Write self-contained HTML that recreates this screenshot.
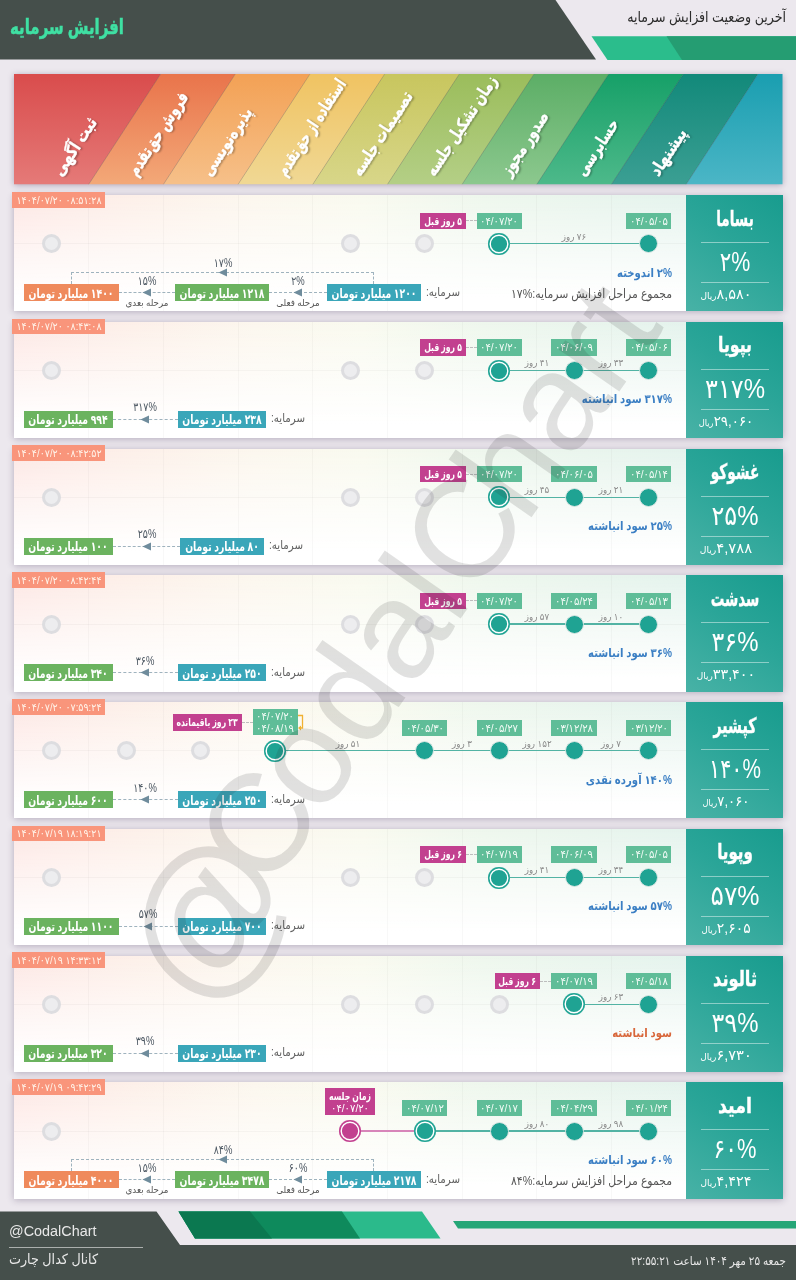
<!DOCTYPE html>
<html lang="fa">
<head>
<meta charset="utf-8">
<title>افزایش سرمایه</title>
<style>
html,body{margin:0;padding:0}
body{width:796px;height:1280px;position:relative;overflow:hidden;background:#ece8ee;font-family:'Liberation Sans','DejaVu Sans',sans-serif}
.b{position:absolute;display:block}
.t{position:absolute;white-space:nowrap;direction:rtl;line-height:1;display:block}
.c{position:absolute;border-radius:50%}
.card{background:linear-gradient(to bottom,rgba(255,255,255,0) 0%,rgba(255,255,255,0.55) 45%,#fff 88%),linear-gradient(to right,#fde7e4 0%,#fdf0e9 18%,#fcf7ee 36%,#f9faef 52%,#eef7ed 70%,#e4f3ed 100%)}
.rowsh{box-shadow:0 1px 7px rgba(60,40,80,0.32)}
.ncard{background:linear-gradient(35deg,#48b2a6 0%,#2aa598 55%,#189c8e 100%)}
.bandsh{filter:drop-shadow(0 1px 3px rgba(60,40,80,0.35))}
.bl{color:#fff;text-shadow:1px 2px 2px rgba(0,0,0,0.28);-webkit-text-stroke:0.4px #fff}
.pr{position:absolute;direction:rtl;white-space:nowrap;color:#fff;line-height:1;width:68px;text-align:center;transform-origin:50% 50%}
.wm{left:393px;top:633px;font-size:139.6px;color:#282828;opacity:0.135;direction:ltr;transform:translate(-50%,-50%) rotate(-55.06deg);font-weight:400}
.wm i{display:inline-block;font-style:normal;text-align:center;white-space:nowrap}
</style>
</head>
<body>
<div class="b" style="left:0;top:0;width:796px;height:1280px;background:#ece8ee"></div>
<svg class="b" style="left:0;top:0" width="796" height="70" viewBox="0 0 796 70"><polygon points="0,0 555.5,0 596,59.5 0,59.5" fill="#454f4b"/><polygon points="591.5,36.2 796,36.2 796,60 607.5,60" fill="#2bbd8c"/><polygon points="666.5,36.2 796,36.2 796,60 682,60" fill="#259d72"/></svg>
<span class="t" style="left:124.00px;top:26.00px;font-size:21px;font-weight:700;color:#3fe0a3;transform:translate(-100%,-50%) scaleX(0.713);transform-origin:100% 50%;-webkit-text-stroke:0.5px #3fe0a3">افزایش سرمایه</span>
<span class="t" style="left:785.50px;top:16.00px;font-size:15px;font-weight:400;color:#2b2b2b;transform:translate(-100%,-50%) scaleX(0.84);transform-origin:100% 50%;">آخرین وضعیت افزایش سرمایه</span>
<svg class="b bandsh" style="left:0;top:0" width="796" height="200" viewBox="0 0 796 200"><defs><linearGradient id="g0" x1="0" y1="0" x2="0" y2="1"><stop offset="0" stop-color="#d94c4c"/><stop offset="1" stop-color="#e57a78"/></linearGradient><linearGradient id="g1" x1="0" y1="0" x2="0" y2="1"><stop offset="0" stop-color="#e9744b"/><stop offset="1" stop-color="#f3a878"/></linearGradient><linearGradient id="g2" x1="0" y1="0" x2="0" y2="1"><stop offset="0" stop-color="#f3a155"/><stop offset="1" stop-color="#f6c089"/></linearGradient><linearGradient id="g3" x1="0" y1="0" x2="0" y2="1"><stop offset="0" stop-color="#f0c362"/><stop offset="1" stop-color="#f0d894"/></linearGradient><linearGradient id="g4" x1="0" y1="0" x2="0" y2="1"><stop offset="0" stop-color="#c8c65e"/><stop offset="1" stop-color="#d8d689"/></linearGradient><linearGradient id="g5" x1="0" y1="0" x2="0" y2="1"><stop offset="0" stop-color="#9bbd5b"/><stop offset="1" stop-color="#b4cf86"/></linearGradient><linearGradient id="g6" x1="0" y1="0" x2="0" y2="1"><stop offset="0" stop-color="#5cae66"/><stop offset="1" stop-color="#8cc88e"/></linearGradient><linearGradient id="g7" x1="0" y1="0" x2="0" y2="1"><stop offset="0" stop-color="#16a068"/><stop offset="1" stop-color="#4db98a"/></linearGradient><linearGradient id="g8" x1="0" y1="0" x2="0" y2="1"><stop offset="0" stop-color="#12897a"/><stop offset="1" stop-color="#3b9f93"/></linearGradient><linearGradient id="g9" x1="0" y1="0" x2="0" y2="1"><stop offset="0" stop-color="#1a9eb0"/><stop offset="1" stop-color="#4bb6c6"/></linearGradient><clipPath id="bc"><rect x="14.0" y="74.0" width="768.5" height="110.5"/></clipPath></defs><g clip-path="url(#bc)"><polygon points="14.0,74.0 160.67000000000002,74.0 88.67,184.5 14.0,184.5" fill="url(#g0)"/><polygon points="160.67000000000002,74.0 235.34,74.0 163.34,184.5 88.67,184.5" fill="url(#g1)"/><polygon points="235.34,74.0 310.01,74.0 238.01,184.5 163.34,184.5" fill="url(#g2)"/><polygon points="310.01,74.0 384.68,74.0 312.68,184.5 238.01,184.5" fill="url(#g3)"/><polygon points="384.68,74.0 459.35,74.0 387.35,184.5 312.68,184.5" fill="url(#g4)"/><polygon points="459.35,74.0 534.02,74.0 462.02,184.5 387.35,184.5" fill="url(#g5)"/><polygon points="534.02,74.0 608.69,74.0 536.69,184.5 462.02,184.5" fill="url(#g6)"/><polygon points="608.69,74.0 683.36,74.0 611.36,184.5 536.69,184.5" fill="url(#g7)"/><polygon points="683.36,74.0 758.03,74.0 686.03,184.5 611.36,184.5" fill="url(#g8)"/><polygon points="758.03,74.0 787.5,74.0 787.5,184.5 686.03,184.5" fill="url(#g9)"/><line x1="160.67000000000002" y1="74.0" x2="88.67" y2="184.5" stroke="rgba(0,0,0,0.22)" stroke-width="0.7"/><line x1="235.34" y1="74.0" x2="163.34" y2="184.5" stroke="rgba(0,0,0,0.22)" stroke-width="0.7"/><line x1="310.01" y1="74.0" x2="238.01" y2="184.5" stroke="rgba(0,0,0,0.22)" stroke-width="0.7"/><line x1="384.68" y1="74.0" x2="312.68" y2="184.5" stroke="rgba(0,0,0,0.22)" stroke-width="0.7"/><line x1="459.35" y1="74.0" x2="387.35" y2="184.5" stroke="rgba(0,0,0,0.22)" stroke-width="0.7"/><line x1="534.02" y1="74.0" x2="462.02" y2="184.5" stroke="rgba(0,0,0,0.22)" stroke-width="0.7"/><line x1="608.69" y1="74.0" x2="536.69" y2="184.5" stroke="rgba(0,0,0,0.22)" stroke-width="0.7"/><line x1="683.36" y1="74.0" x2="611.36" y2="184.5" stroke="rgba(0,0,0,0.22)" stroke-width="0.7"/><line x1="758.03" y1="74.0" x2="686.03" y2="184.5" stroke="rgba(0,0,0,0.22)" stroke-width="0.7"/></g></svg>
<span class="t bl" style="left:64.00px;top:179.00px;font-size:17px;font-weight:700;transform:translate(0,-100%) rotate(-56.91deg) scaleX(0.823);transform-origin:0 100%">ثبت آگهی</span>
<span class="t bl" style="left:138.67px;top:179.00px;font-size:17px;font-weight:700;transform:translate(0,-100%) rotate(-56.91deg) scaleX(0.745);transform-origin:0 100%">فروش حق‌تقدم</span>
<span class="t bl" style="left:213.34px;top:179.00px;font-size:17px;font-weight:700;transform:translate(0,-100%) rotate(-56.91deg) scaleX(0.771);transform-origin:0 100%">پذیره‌نویسی</span>
<span class="t bl" style="left:288.01px;top:179.00px;font-size:17px;font-weight:700;transform:translate(0,-100%) rotate(-56.91deg) scaleX(0.698);transform-origin:0 100%">استفاده از حق‌تقدم</span>
<span class="t bl" style="left:362.68px;top:179.00px;font-size:17px;font-weight:700;transform:translate(0,-100%) rotate(-56.91deg) scaleX(0.759);transform-origin:0 100%">تصمیمات جلسه</span>
<span class="t bl" style="left:437.35px;top:179.00px;font-size:17px;font-weight:700;transform:translate(0,-100%) rotate(-56.91deg) scaleX(0.757);transform-origin:0 100%">زمان تشکیل جلسه</span>
<span class="t bl" style="left:512.02px;top:179.00px;font-size:17px;font-weight:700;transform:translate(0,-100%) rotate(-56.91deg) scaleX(0.772);transform-origin:0 100%">صدور مجوز</span>
<span class="t bl" style="left:586.69px;top:179.00px;font-size:17px;font-weight:700;transform:translate(0,-100%) rotate(-56.91deg) scaleX(0.737);transform-origin:0 100%">حسابرسی</span>
<span class="t bl" style="left:661.36px;top:179.00px;font-size:17px;font-weight:700;transform:translate(0,-100%) rotate(-56.91deg) scaleX(0.829);transform-origin:0 100%">پیشنهاد</span>
<div class="b rowsh" style="left:14.0px;top:195.00px;width:768.50px;height:116.25px"></div>
<div class="b card" style="left:14.0px;top:195.00px;width:672.25px;height:116.25px"></div>
<div class="b " style="left:88.17px;top:195.00px;width:1.00px;height:116.25px;background:rgba(120,120,120,0.055);"></div>
<div class="b " style="left:162.84px;top:195.00px;width:1.00px;height:116.25px;background:rgba(120,120,120,0.055);"></div>
<div class="b " style="left:237.51px;top:195.00px;width:1.00px;height:116.25px;background:rgba(120,120,120,0.055);"></div>
<div class="b " style="left:312.18px;top:195.00px;width:1.00px;height:116.25px;background:rgba(120,120,120,0.055);"></div>
<div class="b " style="left:386.85px;top:195.00px;width:1.00px;height:116.25px;background:rgba(120,120,120,0.055);"></div>
<div class="b " style="left:461.52px;top:195.00px;width:1.00px;height:116.25px;background:rgba(120,120,120,0.055);"></div>
<div class="b " style="left:536.19px;top:195.00px;width:1.00px;height:116.25px;background:rgba(120,120,120,0.055);"></div>
<div class="b " style="left:610.86px;top:195.00px;width:1.00px;height:116.25px;background:rgba(120,120,120,0.055);"></div>
<div class="b " style="left:14.00px;top:243.30px;width:672.25px;height:1.00px;background:rgba(120,120,120,0.06);"></div>
<div class="b ncard" style="left:686.25px;top:195.00px;width:96.25px;height:116.25px"></div>
<span class="t" style="left:734.50px;top:219.50px;font-size:21.5px;font-weight:700;color:#fff;transform:translate(-50%,-50%) scaleX(0.631);transform-origin:50% 50%;-webkit-text-stroke:0.4px #fff">بساما</span>
<div class="b " style="left:700.75px;top:242.00px;width:68.50px;height:1.20px;background:rgba(255,255,255,0.45);"></div>
<span class="t" style="left:734.50px;top:262.00px;font-size:27px;font-weight:400;color:#fff;transform:translate(-50%,-50%) scaleX(0.792);transform-origin:50% 50%;">۲%</span>
<div class="b " style="left:700.75px;top:282.00px;width:68.50px;height:1.20px;background:rgba(255,255,255,0.45);"></div>
<div class="pr" style="left:692.3px;top:286.00px;transform:scaleX(0.998)"><span style="font-size:14.5px">۸,۵۸۰</span><span style="font-size:9px">ریال</span></div>
<div class="b " style="left:12.00px;top:191.80px;width:93.30px;height:15.80px;background:#f9957b;"></div>
<span class="t" style="left:58.65px;top:199.70px;font-size:10.5px;font-weight:400;color:#fff4ea;transform:translate(-50%,-50%) scaleX(0.909);transform-origin:50% 50%;direction:ltr">۱۴۰۴/۰۷/۲۰ ۰۸:۵۱:۲۸</span>
<div class="b " style="left:499.35px;top:243.15px;width:149.34px;height:1.30px;background:#52b3a4;"></div>
<div class="c" style="left:415.19px;top:234.30px;width:19px;height:19px;background:#ededef;border:3.5px solid #dddde0;box-sizing:border-box"></div>
<div class="c" style="left:340.51px;top:234.30px;width:19px;height:19px;background:#ededef;border:3.5px solid #dddde0;box-sizing:border-box"></div>
<div class="c" style="left:41.84px;top:234.30px;width:19px;height:19px;background:#ededef;border:3.5px solid #dddde0;box-sizing:border-box"></div>
<div class="c" style="left:639.20px;top:234.30px;width:19px;height:19px;background:#1fa393;border:1.7px solid #dbe7e4;box-sizing:border-box"></div>
<div class="b " style="left:625.95px;top:212.50px;width:45.50px;height:16.25px;background:#5fbd98;"></div>
<span class="t" style="left:648.70px;top:220.62px;font-size:11px;font-weight:400;color:#f2fbf6;transform:translate(-50%,-50%) scaleX(0.915);transform-origin:50% 50%;">۰۴/۰۵/۰۵</span>
<div class="c" style="left:488.35px;top:232.80px;width:22px;height:22px;background:#1fa393;box-sizing:border-box;box-shadow:inset 0 0 0 1.5px #1fa393, inset 0 0 0 2.9px #fff"></div>
<div class="b " style="left:476.60px;top:212.50px;width:45.50px;height:16.25px;background:#5fbd98;"></div>
<span class="t" style="left:499.35px;top:220.62px;font-size:11px;font-weight:400;color:#f2fbf6;transform:translate(-50%,-50%) scaleX(0.915);transform-origin:50% 50%;">۰۴/۰۷/۲۰</span>
<div class="b dash" style="left:465.60px;top:220.12px;width:11px;height:0;border-top:1px dashed #bdbdbd"></div>
<div class="b " style="left:419.90px;top:212.50px;width:45.70px;height:16.25px;background:#c2408f;"></div>
<span class="t" style="left:442.75px;top:220.62px;font-size:11px;font-weight:700;color:#fff;transform:translate(-50%,-50%) scaleX(0.7);transform-origin:50% 50%;">۵ روز قبل</span>
<span class="t" style="left:574.02px;top:236.50px;font-size:9.5px;font-weight:400;color:#8a8a8a;transform:translate(-50%,-50%) scaleX(0.92);transform-origin:50% 50%;">۷۶ روز</span>
<span class="t" style="left:671.50px;top:272.50px;font-size:12px;font-weight:700;color:#3b7fc4;transform:translate(-100%,-50%) scaleX(0.844);transform-origin:100% 50%;">۲% اندوخته</span>
<span class="t" style="left:671.50px;top:294.00px;font-size:12.5px;font-weight:400;color:#555;transform:translate(-100%,-50%) scaleX(0.866);transform-origin:100% 50%;">مجموع مراحل افزایش سرمایه:%۱۷</span>
<div class="b " style="left:326.75px;top:284.00px;width:94.50px;height:17.00px;background:#3aa6b9;"></div>
<span class="t" style="left:374.00px;top:292.50px;font-size:13px;font-weight:700;color:#fff;transform:translate(-50%,-50%) scaleX(0.714);transform-origin:50% 50%;">۱۲۰۰ میلیارد تومان</span>
<div class="b " style="left:174.75px;top:284.00px;width:94.50px;height:17.00px;background:#6bb35f;"></div>
<span class="t" style="left:222.00px;top:292.50px;font-size:13px;font-weight:700;color:#fff;transform:translate(-50%,-50%) scaleX(0.714);transform-origin:50% 50%;">۱۲۱۸ میلیارد تومان</span>
<div class="b " style="left:24.00px;top:284.00px;width:94.50px;height:17.00px;background:#ef8a5c;"></div>
<span class="t" style="left:71.25px;top:292.50px;font-size:13px;font-weight:700;color:#fff;transform:translate(-50%,-50%) scaleX(0.714);transform-origin:50% 50%;">۱۴۰۰ میلیارد تومان</span>
<span class="t" style="left:426.25px;top:291.70px;font-size:12px;font-weight:400;color:#606060;transform:translate(0,-50%) scaleX(0.853);transform-origin:0 50%;">سرمایه:</span>
<div class="b" style="left:269.25px;top:292.00px;width:57.50px;height:0;border-top:1px dashed #9fb3be"></div>
<svg class="b" style="left:293.00px;top:288.00px" width="10" height="9" viewBox="0 0 10 9"><path d="M0.5 4.5 L9 0.5 V8.5Z" fill="#6f8c9c"/></svg>
<span class="t" style="left:298.00px;top:280.70px;font-size:12px;font-weight:400;color:#4a5560;transform:translate(-50%,-50%) scaleX(0.79);transform-origin:50% 50%;">۲%</span>
<span class="t" style="left:298.00px;top:302.50px;font-size:9.5px;font-weight:400;color:#555;transform:translate(-50%,-50%) scaleX(0.92);transform-origin:50% 50%;">مرحله فعلی</span>
<div class="b" style="left:118.50px;top:292.00px;width:56.25px;height:0;border-top:1px dashed #9fb3be"></div>
<svg class="b" style="left:141.62px;top:288.00px" width="10" height="9" viewBox="0 0 10 9"><path d="M0.5 4.5 L9 0.5 V8.5Z" fill="#6f8c9c"/></svg>
<span class="t" style="left:146.62px;top:280.70px;font-size:12px;font-weight:400;color:#4a5560;transform:translate(-50%,-50%) scaleX(0.79);transform-origin:50% 50%;">۱۵%</span>
<span class="t" style="left:146.62px;top:302.50px;font-size:9.5px;font-weight:400;color:#555;transform:translate(-50%,-50%) scaleX(0.92);transform-origin:50% 50%;">مرحله بعدی</span>
<div class="b" style="left:71.25px;top:272.00px;width:302.75px;height:12px;border:1px dashed #9fb3be;border-bottom:none;box-sizing:border-box"></div>
<svg class="b" style="left:217.62px;top:268.00px" width="10" height="9" viewBox="0 0 10 9"><path d="M0.5 4.5 L9 0.5 V8.5Z" fill="#6f8c9c"/></svg>
<span class="t" style="left:222.62px;top:263.00px;font-size:12px;font-weight:400;color:#4a5560;transform:translate(-50%,-50%) scaleX(0.79);transform-origin:50% 50%;">۱۷%</span>
<div class="b rowsh" style="left:14.0px;top:321.75px;width:768.50px;height:116.25px"></div>
<div class="b card" style="left:14.0px;top:321.75px;width:672.25px;height:116.25px"></div>
<div class="b " style="left:88.17px;top:321.75px;width:1.00px;height:116.25px;background:rgba(120,120,120,0.055);"></div>
<div class="b " style="left:162.84px;top:321.75px;width:1.00px;height:116.25px;background:rgba(120,120,120,0.055);"></div>
<div class="b " style="left:237.51px;top:321.75px;width:1.00px;height:116.25px;background:rgba(120,120,120,0.055);"></div>
<div class="b " style="left:312.18px;top:321.75px;width:1.00px;height:116.25px;background:rgba(120,120,120,0.055);"></div>
<div class="b " style="left:386.85px;top:321.75px;width:1.00px;height:116.25px;background:rgba(120,120,120,0.055);"></div>
<div class="b " style="left:461.52px;top:321.75px;width:1.00px;height:116.25px;background:rgba(120,120,120,0.055);"></div>
<div class="b " style="left:536.19px;top:321.75px;width:1.00px;height:116.25px;background:rgba(120,120,120,0.055);"></div>
<div class="b " style="left:610.86px;top:321.75px;width:1.00px;height:116.25px;background:rgba(120,120,120,0.055);"></div>
<div class="b " style="left:14.00px;top:370.05px;width:672.25px;height:1.00px;background:rgba(120,120,120,0.06);"></div>
<div class="b ncard" style="left:686.25px;top:321.75px;width:96.25px;height:116.25px"></div>
<span class="t" style="left:734.50px;top:346.25px;font-size:21.5px;font-weight:700;color:#fff;transform:translate(-50%,-50%) scaleX(0.731);transform-origin:50% 50%;-webkit-text-stroke:0.4px #fff">بپویا</span>
<div class="b " style="left:700.75px;top:368.75px;width:68.50px;height:1.20px;background:rgba(255,255,255,0.45);"></div>
<span class="t" style="left:734.50px;top:388.75px;font-size:27px;font-weight:400;color:#fff;transform:translate(-50%,-50%) scaleX(0.889);transform-origin:50% 50%;">۳۱۷%</span>
<div class="b " style="left:700.75px;top:408.75px;width:68.50px;height:1.20px;background:rgba(255,255,255,0.45);"></div>
<div class="pr" style="left:692.3px;top:412.75px;transform:scaleX(0.922)"><span style="font-size:14.5px">۲۹,۰۶۰</span><span style="font-size:9px">ریال</span></div>
<div class="b " style="left:12.00px;top:318.55px;width:93.30px;height:15.80px;background:#f9957b;"></div>
<span class="t" style="left:58.65px;top:326.45px;font-size:10.5px;font-weight:400;color:#fff4ea;transform:translate(-50%,-50%) scaleX(0.909);transform-origin:50% 50%;direction:ltr">۱۴۰۴/۰۷/۲۰ ۰۸:۴۳:۰۸</span>
<div class="b " style="left:574.03px;top:369.90px;width:74.67px;height:1.30px;background:#52b3a4;"></div>
<div class="b " style="left:499.35px;top:369.90px;width:74.67px;height:1.30px;background:#52b3a4;"></div>
<div class="c" style="left:415.19px;top:361.05px;width:19px;height:19px;background:#ededef;border:3.5px solid #dddde0;box-sizing:border-box"></div>
<div class="c" style="left:340.51px;top:361.05px;width:19px;height:19px;background:#ededef;border:3.5px solid #dddde0;box-sizing:border-box"></div>
<div class="c" style="left:41.84px;top:361.05px;width:19px;height:19px;background:#ededef;border:3.5px solid #dddde0;box-sizing:border-box"></div>
<div class="c" style="left:639.20px;top:361.05px;width:19px;height:19px;background:#1fa393;border:1.7px solid #dbe7e4;box-sizing:border-box"></div>
<div class="b " style="left:625.95px;top:339.25px;width:45.50px;height:16.25px;background:#5fbd98;"></div>
<span class="t" style="left:648.70px;top:347.38px;font-size:11px;font-weight:400;color:#f2fbf6;transform:translate(-50%,-50%) scaleX(0.915);transform-origin:50% 50%;">۰۴/۰۵/۰۶</span>
<div class="c" style="left:564.53px;top:361.05px;width:19px;height:19px;background:#1fa393;border:1.7px solid #dbe7e4;box-sizing:border-box"></div>
<div class="b " style="left:551.28px;top:339.25px;width:45.50px;height:16.25px;background:#5fbd98;"></div>
<span class="t" style="left:574.03px;top:347.38px;font-size:11px;font-weight:400;color:#f2fbf6;transform:translate(-50%,-50%) scaleX(0.915);transform-origin:50% 50%;">۰۴/۰۶/۰۹</span>
<div class="c" style="left:488.35px;top:359.55px;width:22px;height:22px;background:#1fa393;box-sizing:border-box;box-shadow:inset 0 0 0 1.5px #1fa393, inset 0 0 0 2.9px #fff"></div>
<div class="b " style="left:476.60px;top:339.25px;width:45.50px;height:16.25px;background:#5fbd98;"></div>
<span class="t" style="left:499.35px;top:347.38px;font-size:11px;font-weight:400;color:#f2fbf6;transform:translate(-50%,-50%) scaleX(0.915);transform-origin:50% 50%;">۰۴/۰۷/۲۰</span>
<div class="b dash" style="left:465.60px;top:346.88px;width:11px;height:0;border-top:1px dashed #bdbdbd"></div>
<div class="b " style="left:419.90px;top:339.25px;width:45.70px;height:16.25px;background:#c2408f;"></div>
<span class="t" style="left:442.75px;top:347.38px;font-size:11px;font-weight:700;color:#fff;transform:translate(-50%,-50%) scaleX(0.7);transform-origin:50% 50%;">۵ روز قبل</span>
<span class="t" style="left:611.36px;top:363.25px;font-size:9.5px;font-weight:400;color:#8a8a8a;transform:translate(-50%,-50%) scaleX(0.92);transform-origin:50% 50%;">۳۳ روز</span>
<span class="t" style="left:536.69px;top:363.25px;font-size:9.5px;font-weight:400;color:#8a8a8a;transform:translate(-50%,-50%) scaleX(0.92);transform-origin:50% 50%;">۴۱ روز</span>
<span class="t" style="left:671.50px;top:399.25px;font-size:12px;font-weight:700;color:#3b7fc4;transform:translate(-100%,-50%) scaleX(0.844);transform-origin:100% 50%;">۳۱۷% سود انباشته</span>
<div class="b " style="left:177.58px;top:410.75px;width:88.83px;height:17.00px;background:#3aa6b9;"></div>
<span class="t" style="left:222.00px;top:419.25px;font-size:13px;font-weight:700;color:#fff;transform:translate(-50%,-50%) scaleX(0.714);transform-origin:50% 50%;">۲۳۸ میلیارد تومان</span>
<div class="b " style="left:24.00px;top:410.75px;width:88.83px;height:17.00px;background:#6bb35f;"></div>
<span class="t" style="left:68.42px;top:419.25px;font-size:13px;font-weight:700;color:#fff;transform:translate(-50%,-50%) scaleX(0.714);transform-origin:50% 50%;">۹۹۴ میلیارد تومان</span>
<span class="t" style="left:271.42px;top:418.45px;font-size:12px;font-weight:400;color:#606060;transform:translate(0,-50%) scaleX(0.853);transform-origin:0 50%;">سرمایه:</span>
<div class="b" style="left:112.83px;top:418.75px;width:64.75px;height:0;border-top:1px dashed #9fb3be"></div>
<svg class="b" style="left:140.21px;top:414.75px" width="10" height="9" viewBox="0 0 10 9"><path d="M0.5 4.5 L9 0.5 V8.5Z" fill="#6f8c9c"/></svg>
<span class="t" style="left:145.21px;top:407.45px;font-size:12px;font-weight:400;color:#4a5560;transform:translate(-50%,-50%) scaleX(0.79);transform-origin:50% 50%;">۳۱۷%</span>
<div class="b rowsh" style="left:14.0px;top:448.50px;width:768.50px;height:116.25px"></div>
<div class="b card" style="left:14.0px;top:448.50px;width:672.25px;height:116.25px"></div>
<div class="b " style="left:88.17px;top:448.50px;width:1.00px;height:116.25px;background:rgba(120,120,120,0.055);"></div>
<div class="b " style="left:162.84px;top:448.50px;width:1.00px;height:116.25px;background:rgba(120,120,120,0.055);"></div>
<div class="b " style="left:237.51px;top:448.50px;width:1.00px;height:116.25px;background:rgba(120,120,120,0.055);"></div>
<div class="b " style="left:312.18px;top:448.50px;width:1.00px;height:116.25px;background:rgba(120,120,120,0.055);"></div>
<div class="b " style="left:386.85px;top:448.50px;width:1.00px;height:116.25px;background:rgba(120,120,120,0.055);"></div>
<div class="b " style="left:461.52px;top:448.50px;width:1.00px;height:116.25px;background:rgba(120,120,120,0.055);"></div>
<div class="b " style="left:536.19px;top:448.50px;width:1.00px;height:116.25px;background:rgba(120,120,120,0.055);"></div>
<div class="b " style="left:610.86px;top:448.50px;width:1.00px;height:116.25px;background:rgba(120,120,120,0.055);"></div>
<div class="b " style="left:14.00px;top:496.80px;width:672.25px;height:1.00px;background:rgba(120,120,120,0.06);"></div>
<div class="b ncard" style="left:686.25px;top:448.50px;width:96.25px;height:116.25px"></div>
<span class="t" style="left:734.50px;top:473.00px;font-size:21.5px;font-weight:700;color:#fff;transform:translate(-50%,-50%) scaleX(0.638);transform-origin:50% 50%;-webkit-text-stroke:0.4px #fff">غشوکو</span>
<div class="b " style="left:700.75px;top:495.50px;width:68.50px;height:1.20px;background:rgba(255,255,255,0.45);"></div>
<span class="t" style="left:734.50px;top:515.50px;font-size:27px;font-weight:400;color:#fff;transform:translate(-50%,-50%) scaleX(0.887);transform-origin:50% 50%;">۲۵%</span>
<div class="b " style="left:700.75px;top:535.50px;width:68.50px;height:1.20px;background:rgba(255,255,255,0.45);"></div>
<div class="pr" style="left:692.3px;top:539.50px;transform:scaleX(1.023)"><span style="font-size:14.5px">۴,۷۸۸</span><span style="font-size:9px">ریال</span></div>
<div class="b " style="left:12.00px;top:445.30px;width:93.30px;height:15.80px;background:#f9957b;"></div>
<span class="t" style="left:58.65px;top:453.20px;font-size:10.5px;font-weight:400;color:#fff4ea;transform:translate(-50%,-50%) scaleX(0.909);transform-origin:50% 50%;direction:ltr">۱۴۰۴/۰۷/۲۰ ۰۸:۴۲:۵۲</span>
<div class="b " style="left:574.03px;top:496.65px;width:74.67px;height:1.30px;background:#52b3a4;"></div>
<div class="b " style="left:499.35px;top:496.65px;width:74.67px;height:1.30px;background:#52b3a4;"></div>
<div class="c" style="left:415.19px;top:487.80px;width:19px;height:19px;background:#ededef;border:3.5px solid #dddde0;box-sizing:border-box"></div>
<div class="c" style="left:340.51px;top:487.80px;width:19px;height:19px;background:#ededef;border:3.5px solid #dddde0;box-sizing:border-box"></div>
<div class="c" style="left:41.84px;top:487.80px;width:19px;height:19px;background:#ededef;border:3.5px solid #dddde0;box-sizing:border-box"></div>
<div class="c" style="left:639.20px;top:487.80px;width:19px;height:19px;background:#1fa393;border:1.7px solid #dbe7e4;box-sizing:border-box"></div>
<div class="b " style="left:625.95px;top:466.00px;width:45.50px;height:16.25px;background:#5fbd98;"></div>
<span class="t" style="left:648.70px;top:474.12px;font-size:11px;font-weight:400;color:#f2fbf6;transform:translate(-50%,-50%) scaleX(0.915);transform-origin:50% 50%;">۰۴/۰۵/۱۴</span>
<div class="c" style="left:564.53px;top:487.80px;width:19px;height:19px;background:#1fa393;border:1.7px solid #dbe7e4;box-sizing:border-box"></div>
<div class="b " style="left:551.28px;top:466.00px;width:45.50px;height:16.25px;background:#5fbd98;"></div>
<span class="t" style="left:574.03px;top:474.12px;font-size:11px;font-weight:400;color:#f2fbf6;transform:translate(-50%,-50%) scaleX(0.915);transform-origin:50% 50%;">۰۴/۰۶/۰۵</span>
<div class="c" style="left:488.35px;top:486.30px;width:22px;height:22px;background:#1fa393;box-sizing:border-box;box-shadow:inset 0 0 0 1.5px #1fa393, inset 0 0 0 2.9px #fff"></div>
<div class="b " style="left:476.60px;top:466.00px;width:45.50px;height:16.25px;background:#5fbd98;"></div>
<span class="t" style="left:499.35px;top:474.12px;font-size:11px;font-weight:400;color:#f2fbf6;transform:translate(-50%,-50%) scaleX(0.915);transform-origin:50% 50%;">۰۴/۰۷/۲۰</span>
<div class="b dash" style="left:465.60px;top:473.62px;width:11px;height:0;border-top:1px dashed #bdbdbd"></div>
<div class="b " style="left:419.90px;top:466.00px;width:45.70px;height:16.25px;background:#c2408f;"></div>
<span class="t" style="left:442.75px;top:474.12px;font-size:11px;font-weight:700;color:#fff;transform:translate(-50%,-50%) scaleX(0.7);transform-origin:50% 50%;">۵ روز قبل</span>
<span class="t" style="left:611.36px;top:490.00px;font-size:9.5px;font-weight:400;color:#8a8a8a;transform:translate(-50%,-50%) scaleX(0.92);transform-origin:50% 50%;">۲۱ روز</span>
<span class="t" style="left:536.69px;top:490.00px;font-size:9.5px;font-weight:400;color:#8a8a8a;transform:translate(-50%,-50%) scaleX(0.92);transform-origin:50% 50%;">۴۵ روز</span>
<span class="t" style="left:671.50px;top:526.00px;font-size:12px;font-weight:700;color:#3b7fc4;transform:translate(-100%,-50%) scaleX(0.844);transform-origin:100% 50%;">۲۵% سود انباشته</span>
<div class="b " style="left:180.42px;top:537.50px;width:83.16px;height:17.00px;background:#3aa6b9;"></div>
<span class="t" style="left:222.00px;top:546.00px;font-size:13px;font-weight:700;color:#fff;transform:translate(-50%,-50%) scaleX(0.714);transform-origin:50% 50%;">۸۰ میلیارد تومان</span>
<div class="b " style="left:24.00px;top:537.50px;width:88.83px;height:17.00px;background:#6bb35f;"></div>
<span class="t" style="left:68.42px;top:546.00px;font-size:13px;font-weight:700;color:#fff;transform:translate(-50%,-50%) scaleX(0.714);transform-origin:50% 50%;">۱۰۰ میلیارد تومان</span>
<span class="t" style="left:268.58px;top:545.20px;font-size:12px;font-weight:400;color:#606060;transform:translate(0,-50%) scaleX(0.853);transform-origin:0 50%;">سرمایه:</span>
<div class="b" style="left:112.83px;top:545.50px;width:67.59px;height:0;border-top:1px dashed #9fb3be"></div>
<svg class="b" style="left:141.62px;top:541.50px" width="10" height="9" viewBox="0 0 10 9"><path d="M0.5 4.5 L9 0.5 V8.5Z" fill="#6f8c9c"/></svg>
<span class="t" style="left:146.62px;top:534.20px;font-size:12px;font-weight:400;color:#4a5560;transform:translate(-50%,-50%) scaleX(0.79);transform-origin:50% 50%;">۲۵%</span>
<div class="b rowsh" style="left:14.0px;top:575.25px;width:768.50px;height:116.25px"></div>
<div class="b card" style="left:14.0px;top:575.25px;width:672.25px;height:116.25px"></div>
<div class="b " style="left:88.17px;top:575.25px;width:1.00px;height:116.25px;background:rgba(120,120,120,0.055);"></div>
<div class="b " style="left:162.84px;top:575.25px;width:1.00px;height:116.25px;background:rgba(120,120,120,0.055);"></div>
<div class="b " style="left:237.51px;top:575.25px;width:1.00px;height:116.25px;background:rgba(120,120,120,0.055);"></div>
<div class="b " style="left:312.18px;top:575.25px;width:1.00px;height:116.25px;background:rgba(120,120,120,0.055);"></div>
<div class="b " style="left:386.85px;top:575.25px;width:1.00px;height:116.25px;background:rgba(120,120,120,0.055);"></div>
<div class="b " style="left:461.52px;top:575.25px;width:1.00px;height:116.25px;background:rgba(120,120,120,0.055);"></div>
<div class="b " style="left:536.19px;top:575.25px;width:1.00px;height:116.25px;background:rgba(120,120,120,0.055);"></div>
<div class="b " style="left:610.86px;top:575.25px;width:1.00px;height:116.25px;background:rgba(120,120,120,0.055);"></div>
<div class="b " style="left:14.00px;top:623.55px;width:672.25px;height:1.00px;background:rgba(120,120,120,0.06);"></div>
<div class="b ncard" style="left:686.25px;top:575.25px;width:96.25px;height:116.25px"></div>
<span class="t" style="left:734.50px;top:599.75px;font-size:21.5px;font-weight:700;color:#fff;transform:translate(-50%,-50%) scaleX(0.626);transform-origin:50% 50%;-webkit-text-stroke:0.4px #fff">سدشت</span>
<div class="b " style="left:700.75px;top:622.25px;width:68.50px;height:1.20px;background:rgba(255,255,255,0.45);"></div>
<span class="t" style="left:734.50px;top:642.25px;font-size:27px;font-weight:400;color:#fff;transform:translate(-50%,-50%) scaleX(0.887);transform-origin:50% 50%;">۳۶%</span>
<div class="b " style="left:700.75px;top:662.25px;width:68.50px;height:1.20px;background:rgba(255,255,255,0.45);"></div>
<div class="pr" style="left:692.3px;top:666.25px;transform:scaleX(0.989)"><span style="font-size:14.5px">۳۳,۴۰۰</span><span style="font-size:9px">ریال</span></div>
<div class="b " style="left:12.00px;top:572.05px;width:93.30px;height:15.80px;background:#f9957b;"></div>
<span class="t" style="left:58.65px;top:579.95px;font-size:10.5px;font-weight:400;color:#fff4ea;transform:translate(-50%,-50%) scaleX(0.909);transform-origin:50% 50%;direction:ltr">۱۴۰۴/۰۷/۲۰ ۰۸:۴۲:۴۴</span>
<div class="b " style="left:574.03px;top:623.40px;width:74.67px;height:1.30px;background:#52b3a4;"></div>
<div class="b " style="left:499.35px;top:623.40px;width:74.67px;height:1.30px;background:#52b3a4;"></div>
<div class="c" style="left:415.19px;top:614.55px;width:19px;height:19px;background:#ededef;border:3.5px solid #dddde0;box-sizing:border-box"></div>
<div class="c" style="left:340.51px;top:614.55px;width:19px;height:19px;background:#ededef;border:3.5px solid #dddde0;box-sizing:border-box"></div>
<div class="c" style="left:41.84px;top:614.55px;width:19px;height:19px;background:#ededef;border:3.5px solid #dddde0;box-sizing:border-box"></div>
<div class="c" style="left:639.20px;top:614.55px;width:19px;height:19px;background:#1fa393;border:1.7px solid #dbe7e4;box-sizing:border-box"></div>
<div class="b " style="left:625.95px;top:592.75px;width:45.50px;height:16.25px;background:#5fbd98;"></div>
<span class="t" style="left:648.70px;top:600.88px;font-size:11px;font-weight:400;color:#f2fbf6;transform:translate(-50%,-50%) scaleX(0.915);transform-origin:50% 50%;">۰۴/۰۵/۱۳</span>
<div class="c" style="left:564.53px;top:614.55px;width:19px;height:19px;background:#1fa393;border:1.7px solid #dbe7e4;box-sizing:border-box"></div>
<div class="b " style="left:551.28px;top:592.75px;width:45.50px;height:16.25px;background:#5fbd98;"></div>
<span class="t" style="left:574.03px;top:600.88px;font-size:11px;font-weight:400;color:#f2fbf6;transform:translate(-50%,-50%) scaleX(0.915);transform-origin:50% 50%;">۰۴/۰۵/۲۴</span>
<div class="c" style="left:488.35px;top:613.05px;width:22px;height:22px;background:#1fa393;box-sizing:border-box;box-shadow:inset 0 0 0 1.5px #1fa393, inset 0 0 0 2.9px #fff"></div>
<div class="b " style="left:476.60px;top:592.75px;width:45.50px;height:16.25px;background:#5fbd98;"></div>
<span class="t" style="left:499.35px;top:600.88px;font-size:11px;font-weight:400;color:#f2fbf6;transform:translate(-50%,-50%) scaleX(0.915);transform-origin:50% 50%;">۰۴/۰۷/۲۰</span>
<div class="b dash" style="left:465.60px;top:600.38px;width:11px;height:0;border-top:1px dashed #bdbdbd"></div>
<div class="b " style="left:419.90px;top:592.75px;width:45.70px;height:16.25px;background:#c2408f;"></div>
<span class="t" style="left:442.75px;top:600.88px;font-size:11px;font-weight:700;color:#fff;transform:translate(-50%,-50%) scaleX(0.7);transform-origin:50% 50%;">۵ روز قبل</span>
<span class="t" style="left:611.36px;top:616.75px;font-size:9.5px;font-weight:400;color:#8a8a8a;transform:translate(-50%,-50%) scaleX(0.92);transform-origin:50% 50%;">۱۰ روز</span>
<span class="t" style="left:536.69px;top:616.75px;font-size:9.5px;font-weight:400;color:#8a8a8a;transform:translate(-50%,-50%) scaleX(0.92);transform-origin:50% 50%;">۵۷ روز</span>
<span class="t" style="left:671.50px;top:652.75px;font-size:12px;font-weight:700;color:#3b7fc4;transform:translate(-100%,-50%) scaleX(0.844);transform-origin:100% 50%;">۳۶% سود انباشته</span>
<div class="b " style="left:177.58px;top:664.25px;width:88.83px;height:17.00px;background:#3aa6b9;"></div>
<span class="t" style="left:222.00px;top:672.75px;font-size:13px;font-weight:700;color:#fff;transform:translate(-50%,-50%) scaleX(0.714);transform-origin:50% 50%;">۲۵۰ میلیارد تومان</span>
<div class="b " style="left:24.00px;top:664.25px;width:88.83px;height:17.00px;background:#6bb35f;"></div>
<span class="t" style="left:68.42px;top:672.75px;font-size:13px;font-weight:700;color:#fff;transform:translate(-50%,-50%) scaleX(0.714);transform-origin:50% 50%;">۳۴۰ میلیارد تومان</span>
<span class="t" style="left:271.42px;top:671.95px;font-size:12px;font-weight:400;color:#606060;transform:translate(0,-50%) scaleX(0.853);transform-origin:0 50%;">سرمایه:</span>
<div class="b" style="left:112.83px;top:672.25px;width:64.75px;height:0;border-top:1px dashed #9fb3be"></div>
<svg class="b" style="left:140.21px;top:668.25px" width="10" height="9" viewBox="0 0 10 9"><path d="M0.5 4.5 L9 0.5 V8.5Z" fill="#6f8c9c"/></svg>
<span class="t" style="left:145.21px;top:660.95px;font-size:12px;font-weight:400;color:#4a5560;transform:translate(-50%,-50%) scaleX(0.79);transform-origin:50% 50%;">۳۶%</span>
<div class="b rowsh" style="left:14.0px;top:702.00px;width:768.50px;height:116.25px"></div>
<div class="b card" style="left:14.0px;top:702.00px;width:672.25px;height:116.25px"></div>
<div class="b " style="left:88.17px;top:702.00px;width:1.00px;height:116.25px;background:rgba(120,120,120,0.055);"></div>
<div class="b " style="left:162.84px;top:702.00px;width:1.00px;height:116.25px;background:rgba(120,120,120,0.055);"></div>
<div class="b " style="left:237.51px;top:702.00px;width:1.00px;height:116.25px;background:rgba(120,120,120,0.055);"></div>
<div class="b " style="left:312.18px;top:702.00px;width:1.00px;height:116.25px;background:rgba(120,120,120,0.055);"></div>
<div class="b " style="left:386.85px;top:702.00px;width:1.00px;height:116.25px;background:rgba(120,120,120,0.055);"></div>
<div class="b " style="left:461.52px;top:702.00px;width:1.00px;height:116.25px;background:rgba(120,120,120,0.055);"></div>
<div class="b " style="left:536.19px;top:702.00px;width:1.00px;height:116.25px;background:rgba(120,120,120,0.055);"></div>
<div class="b " style="left:610.86px;top:702.00px;width:1.00px;height:116.25px;background:rgba(120,120,120,0.055);"></div>
<div class="b " style="left:14.00px;top:750.30px;width:672.25px;height:1.00px;background:rgba(120,120,120,0.06);"></div>
<div class="b ncard" style="left:686.25px;top:702.00px;width:96.25px;height:116.25px"></div>
<span class="t" style="left:734.50px;top:726.50px;font-size:21.5px;font-weight:700;color:#fff;transform:translate(-50%,-50%) scaleX(0.658);transform-origin:50% 50%;-webkit-text-stroke:0.4px #fff">کپشیر</span>
<div class="b " style="left:700.75px;top:749.00px;width:68.50px;height:1.20px;background:rgba(255,255,255,0.45);"></div>
<span class="t" style="left:734.50px;top:769.00px;font-size:27px;font-weight:400;color:#fff;transform:translate(-50%,-50%) scaleX(0.77);transform-origin:50% 50%;">۱۴۰%</span>
<div class="b " style="left:700.75px;top:789.00px;width:68.50px;height:1.20px;background:rgba(255,255,255,0.45);"></div>
<div class="pr" style="left:692.3px;top:793.00px;transform:scaleX(0.912)"><span style="font-size:14.5px">۷,۰۶۰</span><span style="font-size:9px">ریال</span></div>
<div class="b " style="left:12.00px;top:698.80px;width:93.30px;height:15.80px;background:#f9957b;"></div>
<span class="t" style="left:58.65px;top:706.70px;font-size:10.5px;font-weight:400;color:#fff4ea;transform:translate(-50%,-50%) scaleX(0.909);transform-origin:50% 50%;direction:ltr">۱۴۰۴/۰۷/۲۰ ۰۷:۵۹:۲۴</span>
<div class="b " style="left:574.03px;top:750.15px;width:74.67px;height:1.30px;background:#52b3a4;"></div>
<div class="b " style="left:499.35px;top:750.15px;width:74.67px;height:1.30px;background:#52b3a4;"></div>
<div class="b " style="left:424.69px;top:750.15px;width:74.67px;height:1.30px;background:#52b3a4;"></div>
<div class="b " style="left:275.34px;top:750.15px;width:149.34px;height:1.30px;background:#52b3a4;"></div>
<div class="c" style="left:191.18px;top:741.30px;width:19px;height:19px;background:#ededef;border:3.5px solid #dddde0;box-sizing:border-box"></div>
<div class="c" style="left:116.50px;top:741.30px;width:19px;height:19px;background:#ededef;border:3.5px solid #dddde0;box-sizing:border-box"></div>
<div class="c" style="left:41.84px;top:741.30px;width:19px;height:19px;background:#ededef;border:3.5px solid #dddde0;box-sizing:border-box"></div>
<div class="c" style="left:639.20px;top:741.30px;width:19px;height:19px;background:#1fa393;border:1.7px solid #dbe7e4;box-sizing:border-box"></div>
<div class="b " style="left:625.95px;top:719.50px;width:45.50px;height:16.25px;background:#5fbd98;"></div>
<span class="t" style="left:648.70px;top:727.62px;font-size:11px;font-weight:400;color:#f2fbf6;transform:translate(-50%,-50%) scaleX(0.915);transform-origin:50% 50%;">۰۳/۱۲/۲۰</span>
<div class="c" style="left:564.53px;top:741.30px;width:19px;height:19px;background:#1fa393;border:1.7px solid #dbe7e4;box-sizing:border-box"></div>
<div class="b " style="left:551.28px;top:719.50px;width:45.50px;height:16.25px;background:#5fbd98;"></div>
<span class="t" style="left:574.03px;top:727.62px;font-size:11px;font-weight:400;color:#f2fbf6;transform:translate(-50%,-50%) scaleX(0.915);transform-origin:50% 50%;">۰۳/۱۲/۲۸</span>
<div class="c" style="left:489.85px;top:741.30px;width:19px;height:19px;background:#1fa393;border:1.7px solid #dbe7e4;box-sizing:border-box"></div>
<div class="b " style="left:476.60px;top:719.50px;width:45.50px;height:16.25px;background:#5fbd98;"></div>
<span class="t" style="left:499.35px;top:727.62px;font-size:11px;font-weight:400;color:#f2fbf6;transform:translate(-50%,-50%) scaleX(0.915);transform-origin:50% 50%;">۰۴/۰۵/۲۷</span>
<div class="c" style="left:415.19px;top:741.30px;width:19px;height:19px;background:#1fa393;border:1.7px solid #dbe7e4;box-sizing:border-box"></div>
<div class="b " style="left:401.94px;top:719.50px;width:45.50px;height:16.25px;background:#5fbd98;"></div>
<span class="t" style="left:424.69px;top:727.62px;font-size:11px;font-weight:400;color:#f2fbf6;transform:translate(-50%,-50%) scaleX(0.915);transform-origin:50% 50%;">۰۴/۰۵/۳۰</span>
<div class="c" style="left:264.34px;top:739.80px;width:22px;height:22px;background:#1fa393;box-sizing:border-box;box-shadow:inset 0 0 0 1.5px #1fa393, inset 0 0 0 2.9px #fff"></div>
<div class="b " style="left:252.84px;top:708.80px;width:45.00px;height:26.20px;background:#5fbd98;"></div>
<span class="t" style="left:275.34px;top:716.00px;font-size:11px;font-weight:400;color:#f2fbf6;transform:translate(-50%,-50%) scaleX(0.915);transform-origin:50% 50%;">۰۴/۰۷/۲۰</span>
<span class="t" style="left:275.34px;top:727.80px;font-size:11px;font-weight:400;color:#f2fbf6;transform:translate(-50%,-50%) scaleX(0.915);transform-origin:50% 50%;">۰۴/۰۸/۱۹</span>
<svg class="b" style="left:297.84px;top:713.00px" width="8" height="20" viewBox="0 0 8 20"><path d="M0 2.5 H4.5 V15 H1.5" fill="none" stroke="#f0b132" stroke-width="1.3"/><path d="M0 15 L3 12.6 V17.4Z" fill="#f0b132"/></svg>
<div class="b dash" style="left:241.84px;top:721.92px;width:11px;height:0;border-top:1px dashed #bdbdbd"></div>
<div class="b " style="left:172.59px;top:714.30px;width:69.25px;height:16.25px;background:#c2408f;"></div>
<span class="t" style="left:207.22px;top:722.42px;font-size:11px;font-weight:700;color:#fff;transform:translate(-50%,-50%) scaleX(0.7);transform-origin:50% 50%;">۲۳ روز باقیمانده</span>
<span class="t" style="left:611.36px;top:743.50px;font-size:9.5px;font-weight:400;color:#8a8a8a;transform:translate(-50%,-50%) scaleX(0.92);transform-origin:50% 50%;">۷ روز</span>
<span class="t" style="left:536.69px;top:743.50px;font-size:9.5px;font-weight:400;color:#8a8a8a;transform:translate(-50%,-50%) scaleX(0.92);transform-origin:50% 50%;">۱۵۲ روز</span>
<span class="t" style="left:462.02px;top:743.50px;font-size:9.5px;font-weight:400;color:#8a8a8a;transform:translate(-50%,-50%) scaleX(0.92);transform-origin:50% 50%;">۳ روز</span>
<span class="t" style="left:347.77px;top:743.50px;font-size:9.5px;font-weight:400;color:#8a8a8a;transform:translate(-50%,-50%) scaleX(0.92);transform-origin:50% 50%;">۵۱ روز</span>
<span class="t" style="left:671.50px;top:779.50px;font-size:12px;font-weight:700;color:#3b7fc4;transform:translate(-100%,-50%) scaleX(0.844);transform-origin:100% 50%;">۱۴۰% آورده نقدی</span>
<div class="b " style="left:177.58px;top:791.00px;width:88.83px;height:17.00px;background:#3aa6b9;"></div>
<span class="t" style="left:222.00px;top:799.50px;font-size:13px;font-weight:700;color:#fff;transform:translate(-50%,-50%) scaleX(0.714);transform-origin:50% 50%;">۲۵۰ میلیارد تومان</span>
<div class="b " style="left:24.00px;top:791.00px;width:88.83px;height:17.00px;background:#6bb35f;"></div>
<span class="t" style="left:68.42px;top:799.50px;font-size:13px;font-weight:700;color:#fff;transform:translate(-50%,-50%) scaleX(0.714);transform-origin:50% 50%;">۶۰۰ میلیارد تومان</span>
<span class="t" style="left:271.42px;top:798.70px;font-size:12px;font-weight:400;color:#606060;transform:translate(0,-50%) scaleX(0.853);transform-origin:0 50%;">سرمایه:</span>
<div class="b" style="left:112.83px;top:799.00px;width:64.75px;height:0;border-top:1px dashed #9fb3be"></div>
<svg class="b" style="left:140.21px;top:795.00px" width="10" height="9" viewBox="0 0 10 9"><path d="M0.5 4.5 L9 0.5 V8.5Z" fill="#6f8c9c"/></svg>
<span class="t" style="left:145.21px;top:787.70px;font-size:12px;font-weight:400;color:#4a5560;transform:translate(-50%,-50%) scaleX(0.79);transform-origin:50% 50%;">۱۴۰%</span>
<div class="b rowsh" style="left:14.0px;top:828.75px;width:768.50px;height:116.25px"></div>
<div class="b card" style="left:14.0px;top:828.75px;width:672.25px;height:116.25px"></div>
<div class="b " style="left:88.17px;top:828.75px;width:1.00px;height:116.25px;background:rgba(120,120,120,0.055);"></div>
<div class="b " style="left:162.84px;top:828.75px;width:1.00px;height:116.25px;background:rgba(120,120,120,0.055);"></div>
<div class="b " style="left:237.51px;top:828.75px;width:1.00px;height:116.25px;background:rgba(120,120,120,0.055);"></div>
<div class="b " style="left:312.18px;top:828.75px;width:1.00px;height:116.25px;background:rgba(120,120,120,0.055);"></div>
<div class="b " style="left:386.85px;top:828.75px;width:1.00px;height:116.25px;background:rgba(120,120,120,0.055);"></div>
<div class="b " style="left:461.52px;top:828.75px;width:1.00px;height:116.25px;background:rgba(120,120,120,0.055);"></div>
<div class="b " style="left:536.19px;top:828.75px;width:1.00px;height:116.25px;background:rgba(120,120,120,0.055);"></div>
<div class="b " style="left:610.86px;top:828.75px;width:1.00px;height:116.25px;background:rgba(120,120,120,0.055);"></div>
<div class="b " style="left:14.00px;top:877.05px;width:672.25px;height:1.00px;background:rgba(120,120,120,0.06);"></div>
<div class="b ncard" style="left:686.25px;top:828.75px;width:96.25px;height:116.25px"></div>
<span class="t" style="left:734.50px;top:853.25px;font-size:21.5px;font-weight:700;color:#fff;transform:translate(-50%,-50%) scaleX(0.699);transform-origin:50% 50%;-webkit-text-stroke:0.4px #fff">وپویا</span>
<div class="b " style="left:700.75px;top:875.75px;width:68.50px;height:1.20px;background:rgba(255,255,255,0.45);"></div>
<span class="t" style="left:734.50px;top:895.75px;font-size:27px;font-weight:400;color:#fff;transform:translate(-50%,-50%) scaleX(0.924);transform-origin:50% 50%;">۵۷%</span>
<div class="b " style="left:700.75px;top:915.75px;width:68.50px;height:1.20px;background:rgba(255,255,255,0.45);"></div>
<div class="pr" style="left:692.3px;top:919.75px;transform:scaleX(0.959)"><span style="font-size:14.5px">۲,۶۰۵</span><span style="font-size:9px">ریال</span></div>
<div class="b " style="left:12.00px;top:825.55px;width:93.30px;height:15.80px;background:#f9957b;"></div>
<span class="t" style="left:58.65px;top:833.45px;font-size:10.5px;font-weight:400;color:#fff4ea;transform:translate(-50%,-50%) scaleX(0.909);transform-origin:50% 50%;direction:ltr">۱۴۰۴/۰۷/۱۹ ۱۸:۱۹:۲۱</span>
<div class="b " style="left:574.03px;top:876.90px;width:74.67px;height:1.30px;background:#52b3a4;"></div>
<div class="b " style="left:499.35px;top:876.90px;width:74.67px;height:1.30px;background:#52b3a4;"></div>
<div class="c" style="left:415.19px;top:868.05px;width:19px;height:19px;background:#ededef;border:3.5px solid #dddde0;box-sizing:border-box"></div>
<div class="c" style="left:340.51px;top:868.05px;width:19px;height:19px;background:#ededef;border:3.5px solid #dddde0;box-sizing:border-box"></div>
<div class="c" style="left:41.84px;top:868.05px;width:19px;height:19px;background:#ededef;border:3.5px solid #dddde0;box-sizing:border-box"></div>
<div class="c" style="left:639.20px;top:868.05px;width:19px;height:19px;background:#1fa393;border:1.7px solid #dbe7e4;box-sizing:border-box"></div>
<div class="b " style="left:625.95px;top:846.25px;width:45.50px;height:16.25px;background:#5fbd98;"></div>
<span class="t" style="left:648.70px;top:854.38px;font-size:11px;font-weight:400;color:#f2fbf6;transform:translate(-50%,-50%) scaleX(0.915);transform-origin:50% 50%;">۰۴/۰۵/۰۵</span>
<div class="c" style="left:564.53px;top:868.05px;width:19px;height:19px;background:#1fa393;border:1.7px solid #dbe7e4;box-sizing:border-box"></div>
<div class="b " style="left:551.28px;top:846.25px;width:45.50px;height:16.25px;background:#5fbd98;"></div>
<span class="t" style="left:574.03px;top:854.38px;font-size:11px;font-weight:400;color:#f2fbf6;transform:translate(-50%,-50%) scaleX(0.915);transform-origin:50% 50%;">۰۴/۰۶/۰۹</span>
<div class="c" style="left:488.35px;top:866.55px;width:22px;height:22px;background:#1fa393;box-sizing:border-box;box-shadow:inset 0 0 0 1.5px #1fa393, inset 0 0 0 2.9px #fff"></div>
<div class="b " style="left:476.60px;top:846.25px;width:45.50px;height:16.25px;background:#5fbd98;"></div>
<span class="t" style="left:499.35px;top:854.38px;font-size:11px;font-weight:400;color:#f2fbf6;transform:translate(-50%,-50%) scaleX(0.915);transform-origin:50% 50%;">۰۴/۰۷/۱۹</span>
<div class="b dash" style="left:465.60px;top:853.88px;width:11px;height:0;border-top:1px dashed #bdbdbd"></div>
<div class="b " style="left:419.90px;top:846.25px;width:45.70px;height:16.25px;background:#c2408f;"></div>
<span class="t" style="left:442.75px;top:854.38px;font-size:11px;font-weight:700;color:#fff;transform:translate(-50%,-50%) scaleX(0.7);transform-origin:50% 50%;">۶ روز قبل</span>
<span class="t" style="left:611.36px;top:870.25px;font-size:9.5px;font-weight:400;color:#8a8a8a;transform:translate(-50%,-50%) scaleX(0.92);transform-origin:50% 50%;">۳۴ روز</span>
<span class="t" style="left:536.69px;top:870.25px;font-size:9.5px;font-weight:400;color:#8a8a8a;transform:translate(-50%,-50%) scaleX(0.92);transform-origin:50% 50%;">۴۱ روز</span>
<span class="t" style="left:671.50px;top:906.25px;font-size:12px;font-weight:700;color:#3b7fc4;transform:translate(-100%,-50%) scaleX(0.844);transform-origin:100% 50%;">۵۷% سود انباشته</span>
<div class="b " style="left:177.58px;top:917.75px;width:88.83px;height:17.00px;background:#3aa6b9;"></div>
<span class="t" style="left:222.00px;top:926.25px;font-size:13px;font-weight:700;color:#fff;transform:translate(-50%,-50%) scaleX(0.714);transform-origin:50% 50%;">۷۰۰ میلیارد تومان</span>
<div class="b " style="left:24.00px;top:917.75px;width:94.50px;height:17.00px;background:#6bb35f;"></div>
<span class="t" style="left:71.25px;top:926.25px;font-size:13px;font-weight:700;color:#fff;transform:translate(-50%,-50%) scaleX(0.714);transform-origin:50% 50%;">۱۱۰۰ میلیارد تومان</span>
<span class="t" style="left:271.42px;top:925.45px;font-size:12px;font-weight:400;color:#606060;transform:translate(0,-50%) scaleX(0.853);transform-origin:0 50%;">سرمایه:</span>
<div class="b" style="left:118.50px;top:925.75px;width:59.08px;height:0;border-top:1px dashed #9fb3be"></div>
<svg class="b" style="left:143.04px;top:921.75px" width="10" height="9" viewBox="0 0 10 9"><path d="M0.5 4.5 L9 0.5 V8.5Z" fill="#6f8c9c"/></svg>
<span class="t" style="left:148.04px;top:914.45px;font-size:12px;font-weight:400;color:#4a5560;transform:translate(-50%,-50%) scaleX(0.79);transform-origin:50% 50%;">۵۷%</span>
<div class="b rowsh" style="left:14.0px;top:955.50px;width:768.50px;height:116.25px"></div>
<div class="b card" style="left:14.0px;top:955.50px;width:672.25px;height:116.25px"></div>
<div class="b " style="left:88.17px;top:955.50px;width:1.00px;height:116.25px;background:rgba(120,120,120,0.055);"></div>
<div class="b " style="left:162.84px;top:955.50px;width:1.00px;height:116.25px;background:rgba(120,120,120,0.055);"></div>
<div class="b " style="left:237.51px;top:955.50px;width:1.00px;height:116.25px;background:rgba(120,120,120,0.055);"></div>
<div class="b " style="left:312.18px;top:955.50px;width:1.00px;height:116.25px;background:rgba(120,120,120,0.055);"></div>
<div class="b " style="left:386.85px;top:955.50px;width:1.00px;height:116.25px;background:rgba(120,120,120,0.055);"></div>
<div class="b " style="left:461.52px;top:955.50px;width:1.00px;height:116.25px;background:rgba(120,120,120,0.055);"></div>
<div class="b " style="left:536.19px;top:955.50px;width:1.00px;height:116.25px;background:rgba(120,120,120,0.055);"></div>
<div class="b " style="left:610.86px;top:955.50px;width:1.00px;height:116.25px;background:rgba(120,120,120,0.055);"></div>
<div class="b " style="left:14.00px;top:1003.80px;width:672.25px;height:1.00px;background:rgba(120,120,120,0.06);"></div>
<div class="b ncard" style="left:686.25px;top:955.50px;width:96.25px;height:116.25px"></div>
<span class="t" style="left:734.50px;top:980.00px;font-size:21.5px;font-weight:700;color:#fff;transform:translate(-50%,-50%) scaleX(0.756);transform-origin:50% 50%;-webkit-text-stroke:0.4px #fff">ثالوند</span>
<div class="b " style="left:700.75px;top:1002.50px;width:68.50px;height:1.20px;background:rgba(255,255,255,0.45);"></div>
<span class="t" style="left:734.50px;top:1022.50px;font-size:27px;font-weight:400;color:#fff;transform:translate(-50%,-50%) scaleX(0.887);transform-origin:50% 50%;">۳۹%</span>
<div class="b " style="left:700.75px;top:1042.50px;width:68.50px;height:1.20px;background:rgba(255,255,255,0.45);"></div>
<div class="pr" style="left:692.3px;top:1046.50px;transform:scaleX(1.003)"><span style="font-size:14.5px">۶,۷۳۰</span><span style="font-size:9px">ریال</span></div>
<div class="b " style="left:12.00px;top:952.30px;width:93.30px;height:15.80px;background:#f9957b;"></div>
<span class="t" style="left:58.65px;top:960.20px;font-size:10.5px;font-weight:400;color:#fff4ea;transform:translate(-50%,-50%) scaleX(0.909);transform-origin:50% 50%;direction:ltr">۱۴۰۴/۰۷/۱۹ ۱۴:۳۳:۱۲</span>
<div class="b " style="left:574.03px;top:1003.65px;width:74.67px;height:1.30px;background:#52b3a4;"></div>
<div class="c" style="left:489.85px;top:994.80px;width:19px;height:19px;background:#ededef;border:3.5px solid #dddde0;box-sizing:border-box"></div>
<div class="c" style="left:415.19px;top:994.80px;width:19px;height:19px;background:#ededef;border:3.5px solid #dddde0;box-sizing:border-box"></div>
<div class="c" style="left:340.51px;top:994.80px;width:19px;height:19px;background:#ededef;border:3.5px solid #dddde0;box-sizing:border-box"></div>
<div class="c" style="left:41.84px;top:994.80px;width:19px;height:19px;background:#ededef;border:3.5px solid #dddde0;box-sizing:border-box"></div>
<div class="c" style="left:639.20px;top:994.80px;width:19px;height:19px;background:#1fa393;border:1.7px solid #dbe7e4;box-sizing:border-box"></div>
<div class="b " style="left:625.95px;top:973.00px;width:45.50px;height:16.25px;background:#5fbd98;"></div>
<span class="t" style="left:648.70px;top:981.12px;font-size:11px;font-weight:400;color:#f2fbf6;transform:translate(-50%,-50%) scaleX(0.915);transform-origin:50% 50%;">۰۴/۰۵/۱۸</span>
<div class="c" style="left:563.03px;top:993.30px;width:22px;height:22px;background:#1fa393;box-sizing:border-box;box-shadow:inset 0 0 0 1.5px #1fa393, inset 0 0 0 2.9px #fff"></div>
<div class="b " style="left:551.28px;top:973.00px;width:45.50px;height:16.25px;background:#5fbd98;"></div>
<span class="t" style="left:574.03px;top:981.12px;font-size:11px;font-weight:400;color:#f2fbf6;transform:translate(-50%,-50%) scaleX(0.915);transform-origin:50% 50%;">۰۴/۰۷/۱۹</span>
<div class="b dash" style="left:540.28px;top:980.62px;width:11px;height:0;border-top:1px dashed #bdbdbd"></div>
<div class="b " style="left:494.57px;top:973.00px;width:45.70px;height:16.25px;background:#c2408f;"></div>
<span class="t" style="left:517.42px;top:981.12px;font-size:11px;font-weight:700;color:#fff;transform:translate(-50%,-50%) scaleX(0.7);transform-origin:50% 50%;">۶ روز قبل</span>
<span class="t" style="left:611.36px;top:997.00px;font-size:9.5px;font-weight:400;color:#8a8a8a;transform:translate(-50%,-50%) scaleX(0.92);transform-origin:50% 50%;">۶۳ روز</span>
<span class="t" style="left:671.50px;top:1033.00px;font-size:12px;font-weight:700;color:#d8663a;transform:translate(-100%,-50%) scaleX(0.844);transform-origin:100% 50%;">سود انباشته</span>
<div class="b " style="left:177.58px;top:1044.50px;width:88.83px;height:17.00px;background:#3aa6b9;"></div>
<span class="t" style="left:222.00px;top:1053.00px;font-size:13px;font-weight:700;color:#fff;transform:translate(-50%,-50%) scaleX(0.714);transform-origin:50% 50%;">۲۳۰ میلیارد تومان</span>
<div class="b " style="left:24.00px;top:1044.50px;width:88.83px;height:17.00px;background:#6bb35f;"></div>
<span class="t" style="left:68.42px;top:1053.00px;font-size:13px;font-weight:700;color:#fff;transform:translate(-50%,-50%) scaleX(0.714);transform-origin:50% 50%;">۳۲۰ میلیارد تومان</span>
<span class="t" style="left:271.42px;top:1052.20px;font-size:12px;font-weight:400;color:#606060;transform:translate(0,-50%) scaleX(0.853);transform-origin:0 50%;">سرمایه:</span>
<div class="b" style="left:112.83px;top:1052.50px;width:64.75px;height:0;border-top:1px dashed #9fb3be"></div>
<svg class="b" style="left:140.21px;top:1048.50px" width="10" height="9" viewBox="0 0 10 9"><path d="M0.5 4.5 L9 0.5 V8.5Z" fill="#6f8c9c"/></svg>
<span class="t" style="left:145.21px;top:1041.20px;font-size:12px;font-weight:400;color:#4a5560;transform:translate(-50%,-50%) scaleX(0.79);transform-origin:50% 50%;">۳۹%</span>
<div class="b rowsh" style="left:14.0px;top:1082.25px;width:768.50px;height:116.25px"></div>
<div class="b card" style="left:14.0px;top:1082.25px;width:672.25px;height:116.25px"></div>
<div class="b " style="left:88.17px;top:1082.25px;width:1.00px;height:116.25px;background:rgba(120,120,120,0.055);"></div>
<div class="b " style="left:162.84px;top:1082.25px;width:1.00px;height:116.25px;background:rgba(120,120,120,0.055);"></div>
<div class="b " style="left:237.51px;top:1082.25px;width:1.00px;height:116.25px;background:rgba(120,120,120,0.055);"></div>
<div class="b " style="left:312.18px;top:1082.25px;width:1.00px;height:116.25px;background:rgba(120,120,120,0.055);"></div>
<div class="b " style="left:386.85px;top:1082.25px;width:1.00px;height:116.25px;background:rgba(120,120,120,0.055);"></div>
<div class="b " style="left:461.52px;top:1082.25px;width:1.00px;height:116.25px;background:rgba(120,120,120,0.055);"></div>
<div class="b " style="left:536.19px;top:1082.25px;width:1.00px;height:116.25px;background:rgba(120,120,120,0.055);"></div>
<div class="b " style="left:610.86px;top:1082.25px;width:1.00px;height:116.25px;background:rgba(120,120,120,0.055);"></div>
<div class="b " style="left:14.00px;top:1130.55px;width:672.25px;height:1.00px;background:rgba(120,120,120,0.06);"></div>
<div class="b ncard" style="left:686.25px;top:1082.25px;width:96.25px;height:116.25px"></div>
<span class="t" style="left:734.50px;top:1106.75px;font-size:21.5px;font-weight:700;color:#fff;transform:translate(-50%,-50%) scaleX(0.812);transform-origin:50% 50%;-webkit-text-stroke:0.4px #fff">امید</span>
<div class="b " style="left:700.75px;top:1129.25px;width:68.50px;height:1.20px;background:rgba(255,255,255,0.45);"></div>
<span class="t" style="left:734.50px;top:1149.25px;font-size:27px;font-weight:400;color:#fff;transform:translate(-50%,-50%) scaleX(0.811);transform-origin:50% 50%;">۶۰%</span>
<div class="b " style="left:700.75px;top:1169.25px;width:68.50px;height:1.20px;background:rgba(255,255,255,0.45);"></div>
<div class="pr" style="left:692.3px;top:1173.25px;transform:scaleX(0.994)"><span style="font-size:14.5px">۴,۴۲۴</span><span style="font-size:9px">ریال</span></div>
<div class="b " style="left:12.00px;top:1079.05px;width:93.30px;height:15.80px;background:#f9957b;"></div>
<span class="t" style="left:58.65px;top:1086.95px;font-size:10.5px;font-weight:400;color:#fff4ea;transform:translate(-50%,-50%) scaleX(0.909);transform-origin:50% 50%;direction:ltr">۱۴۰۴/۰۷/۱۹ ۰۹:۴۲:۲۹</span>
<div class="b " style="left:574.03px;top:1130.40px;width:74.67px;height:1.30px;background:#52b3a4;"></div>
<div class="b " style="left:499.35px;top:1130.40px;width:74.67px;height:1.30px;background:#52b3a4;"></div>
<div class="b " style="left:424.69px;top:1130.40px;width:74.67px;height:1.30px;background:#52b3a4;"></div>
<div class="b " style="left:350.01px;top:1130.40px;width:74.67px;height:1.30px;background:#d785b9;"></div>
<div class="c" style="left:41.84px;top:1121.55px;width:19px;height:19px;background:#ededef;border:3.5px solid #dddde0;box-sizing:border-box"></div>
<div class="c" style="left:639.20px;top:1121.55px;width:19px;height:19px;background:#1fa393;border:1.7px solid #dbe7e4;box-sizing:border-box"></div>
<div class="b " style="left:625.95px;top:1099.75px;width:45.50px;height:16.25px;background:#5fbd98;"></div>
<span class="t" style="left:648.70px;top:1107.88px;font-size:11px;font-weight:400;color:#f2fbf6;transform:translate(-50%,-50%) scaleX(0.915);transform-origin:50% 50%;">۰۴/۰۱/۲۴</span>
<div class="c" style="left:564.53px;top:1121.55px;width:19px;height:19px;background:#1fa393;border:1.7px solid #dbe7e4;box-sizing:border-box"></div>
<div class="b " style="left:551.28px;top:1099.75px;width:45.50px;height:16.25px;background:#5fbd98;"></div>
<span class="t" style="left:574.03px;top:1107.88px;font-size:11px;font-weight:400;color:#f2fbf6;transform:translate(-50%,-50%) scaleX(0.915);transform-origin:50% 50%;">۰۴/۰۴/۲۹</span>
<div class="c" style="left:489.85px;top:1121.55px;width:19px;height:19px;background:#1fa393;border:1.7px solid #dbe7e4;box-sizing:border-box"></div>
<div class="b " style="left:476.60px;top:1099.75px;width:45.50px;height:16.25px;background:#5fbd98;"></div>
<span class="t" style="left:499.35px;top:1107.88px;font-size:11px;font-weight:400;color:#f2fbf6;transform:translate(-50%,-50%) scaleX(0.915);transform-origin:50% 50%;">۰۴/۰۷/۱۷</span>
<div class="c" style="left:413.69px;top:1120.05px;width:22px;height:22px;background:#1fa393;box-sizing:border-box;box-shadow:inset 0 0 0 1.5px #1fa393, inset 0 0 0 2.9px #fff"></div>
<div class="b " style="left:401.94px;top:1099.75px;width:45.50px;height:16.25px;background:#5fbd98;"></div>
<span class="t" style="left:424.69px;top:1107.88px;font-size:11px;font-weight:400;color:#f2fbf6;transform:translate(-50%,-50%) scaleX(0.915);transform-origin:50% 50%;">۰۴/۰۷/۱۲</span>
<div class="c" style="left:339.01px;top:1120.05px;width:22px;height:22px;background:#c2408f;box-sizing:border-box;box-shadow:inset 0 0 0 1.5px #c2408f, inset 0 0 0 2.9px #fff"></div>
<div class="b " style="left:325.01px;top:1088.25px;width:50.00px;height:27.00px;background:#c2408f;"></div>
<span class="t" style="left:350.01px;top:1095.75px;font-size:11px;font-weight:700;color:#fff;transform:translate(-50%,-50%) scaleX(0.7);transform-origin:50% 50%;">زمان جلسه</span>
<span class="t" style="left:350.01px;top:1107.75px;font-size:11px;font-weight:400;color:#fff;transform:translate(-50%,-50%) scaleX(0.915);transform-origin:50% 50%;">۰۴/۰۷/۲۰</span>
<span class="t" style="left:611.36px;top:1123.75px;font-size:9.5px;font-weight:400;color:#8a8a8a;transform:translate(-50%,-50%) scaleX(0.92);transform-origin:50% 50%;">۹۸ روز</span>
<span class="t" style="left:536.69px;top:1123.75px;font-size:9.5px;font-weight:400;color:#8a8a8a;transform:translate(-50%,-50%) scaleX(0.92);transform-origin:50% 50%;">۸۰ روز</span>
<span class="t" style="left:671.50px;top:1159.75px;font-size:12px;font-weight:700;color:#3b7fc4;transform:translate(-100%,-50%) scaleX(0.844);transform-origin:100% 50%;">۶۰% سود انباشته</span>
<span class="t" style="left:671.50px;top:1181.25px;font-size:12.5px;font-weight:400;color:#555;transform:translate(-100%,-50%) scaleX(0.866);transform-origin:100% 50%;">مجموع مراحل افزایش سرمایه:%۸۴</span>
<div class="b " style="left:326.75px;top:1171.25px;width:94.50px;height:17.00px;background:#3aa6b9;"></div>
<span class="t" style="left:374.00px;top:1179.75px;font-size:13px;font-weight:700;color:#fff;transform:translate(-50%,-50%) scaleX(0.714);transform-origin:50% 50%;">۲۱۷۸ میلیارد تومان</span>
<div class="b " style="left:174.75px;top:1171.25px;width:94.50px;height:17.00px;background:#6bb35f;"></div>
<span class="t" style="left:222.00px;top:1179.75px;font-size:13px;font-weight:700;color:#fff;transform:translate(-50%,-50%) scaleX(0.714);transform-origin:50% 50%;">۳۴۷۸ میلیارد تومان</span>
<div class="b " style="left:24.00px;top:1171.25px;width:94.50px;height:17.00px;background:#ef8a5c;"></div>
<span class="t" style="left:71.25px;top:1179.75px;font-size:13px;font-weight:700;color:#fff;transform:translate(-50%,-50%) scaleX(0.714);transform-origin:50% 50%;">۴۰۰۰ میلیارد تومان</span>
<span class="t" style="left:426.25px;top:1178.95px;font-size:12px;font-weight:400;color:#606060;transform:translate(0,-50%) scaleX(0.853);transform-origin:0 50%;">سرمایه:</span>
<div class="b" style="left:269.25px;top:1179.25px;width:57.50px;height:0;border-top:1px dashed #9fb3be"></div>
<svg class="b" style="left:293.00px;top:1175.25px" width="10" height="9" viewBox="0 0 10 9"><path d="M0.5 4.5 L9 0.5 V8.5Z" fill="#6f8c9c"/></svg>
<span class="t" style="left:298.00px;top:1167.95px;font-size:12px;font-weight:400;color:#4a5560;transform:translate(-50%,-50%) scaleX(0.79);transform-origin:50% 50%;">۶۰%</span>
<span class="t" style="left:298.00px;top:1189.75px;font-size:9.5px;font-weight:400;color:#555;transform:translate(-50%,-50%) scaleX(0.92);transform-origin:50% 50%;">مرحله فعلی</span>
<div class="b" style="left:118.50px;top:1179.25px;width:56.25px;height:0;border-top:1px dashed #9fb3be"></div>
<svg class="b" style="left:141.62px;top:1175.25px" width="10" height="9" viewBox="0 0 10 9"><path d="M0.5 4.5 L9 0.5 V8.5Z" fill="#6f8c9c"/></svg>
<span class="t" style="left:146.62px;top:1167.95px;font-size:12px;font-weight:400;color:#4a5560;transform:translate(-50%,-50%) scaleX(0.79);transform-origin:50% 50%;">۱۵%</span>
<span class="t" style="left:146.62px;top:1189.75px;font-size:9.5px;font-weight:400;color:#555;transform:translate(-50%,-50%) scaleX(0.92);transform-origin:50% 50%;">مرحله بعدی</span>
<div class="b" style="left:71.25px;top:1159.25px;width:302.75px;height:12px;border:1px dashed #9fb3be;border-bottom:none;box-sizing:border-box"></div>
<svg class="b" style="left:217.62px;top:1155.25px" width="10" height="9" viewBox="0 0 10 9"><path d="M0.5 4.5 L9 0.5 V8.5Z" fill="#6f8c9c"/></svg>
<span class="t" style="left:222.62px;top:1150.25px;font-size:12px;font-weight:400;color:#4a5560;transform:translate(-50%,-50%) scaleX(0.79);transform-origin:50% 50%;">۸۴%</span>
<span class="t wm"><i style="width:0.895em;transform:translate(-2px,11px) scale(1.18)">@</i><i style="width:0.651em">C</i><i style="width:0.57em">o</i><i style="width:0.563em">d</i><i style="width:0.544em">a</i><i style="width:0.243em">l</i><i style="width:0.651em">C</i><i style="width:0.551em">h</i><i style="width:0.544em">a</i><i style="width:0.338em">r</i><i style="width:0.327em">t</i></span>
<svg class="b" style="left:0;top:1200px" width="796" height="80" viewBox="0 1200 796 80"><polygon points="0,1211.5 156.5,1211.5 180,1245 796,1245 796,1280 0,1280" fill="#454f4b"/><polygon points="178.5,1211.5 422,1211.5 440.5,1238.5 195,1238.5" fill="#2bba8b"/><polygon points="178.5,1211.5 342,1211.5 360,1238.5 195,1238.5" fill="#0e8a5c"/><polygon points="178.5,1211.5 250,1211.5 272,1238.5 195,1238.5" fill="#0b7850"/><polygon points="453,1221 796,1221 796,1228.5 458,1228.5" fill="#25a677"/></svg>
<span class="t" style="left:9.00px;top:1231.00px;font-size:15.5px;font-weight:400;color:#e8e8e8;transform:translate(0,-50%) scaleX(0.93);transform-origin:0 50%;direction:ltr">@CodalChart</span>
<div class="b " style="left:9.00px;top:1247.00px;width:134.00px;height:1.00px;background:rgba(255,255,255,0.55);"></div>
<span class="t" style="left:9.00px;top:1258.50px;font-size:14px;font-weight:400;color:#e8e8e8;transform:translate(0,-50%) scaleX(0.908);transform-origin:0 50%;">کانال کدال چارت</span>
<span class="t" style="left:785.50px;top:1260.50px;font-size:12px;font-weight:400;color:#e8e8e8;transform:translate(-100%,-50%) scaleX(0.868);transform-origin:100% 50%;">جمعه ۲۵ مهر ۱۴۰۴ ساعت ۲۲:۵۵:۲۱</span>
</body>
</html>
